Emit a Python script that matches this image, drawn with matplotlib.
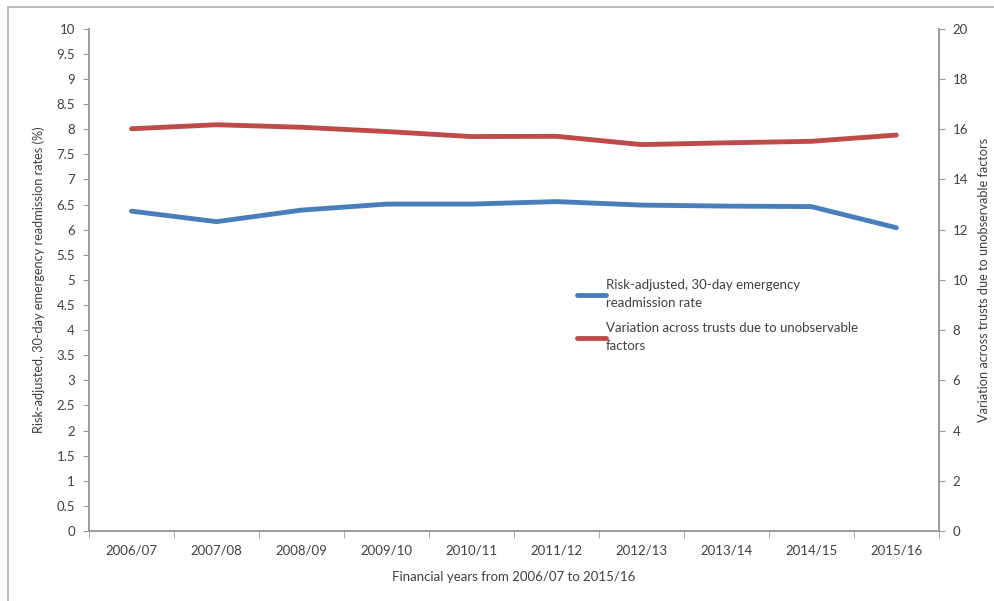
import matplotlib.pyplot as plt
from matplotlib.patches import Rectangle

# Data
years = ['2006/07', '2007/08', '2008/09', '2009/10', '2010/11',
         '2011/12', '2012/13', '2013/14', '2014/15', '2015/16']
readmission_rate = [6.37, 6.16, 6.39, 6.51, 6.51, 6.56, 6.49, 6.47, 6.46, 6.04]
unobserved_variation = [16.02, 16.18, 16.08, 15.91, 15.71, 15.72, 15.39, 15.46, 15.52, 15.77]

plt.rcParams['font.family'] = ['Lato', 'DejaVu Sans']
grey = '#9a9a9a'
text_col = '#404040'

fig = plt.figure(figsize=(9.94, 6.01), dpi=100)
ax = fig.add_axes([0.0895, 0.1165, 0.855, 0.8355])
ax2 = ax.twinx()

x = list(range(len(years)))
line1, = ax.plot(x, readmission_rate, color='#4a7ebb', linewidth=3.5,
                 solid_capstyle='round', label='Risk-adjusted, 30-day emergency\nreadmission rate')
line2, = ax2.plot(x, unobserved_variation, color='#be4b48', linewidth=3.5,
                  solid_capstyle='round', label='Variation across trusts due to unobservable\nfactors')

# Left axis
yt = [i * 0.5 for i in range(21)]
ax.set_ylim(0, 10)
ax.set_yticks(yt)
ax.set_yticklabels(['%g' % v for v in yt])
ax.set_xlim(-0.5, len(years) - 0.5)
ax.set_xticks(x)
ax.set_xticklabels(years)
ax.set_xticks([i - 0.5 for i in range(len(years) + 1)], minor=True)
ax.tick_params(axis='x', which='major', length=0, pad=10)
ax.tick_params(axis='x', which='minor', length=5, color=grey, direction='out')
ax.tick_params(axis='y', length=4, color=grey, direction='out', pad=6)
ax.tick_params(labelsize=9.5, labelcolor=text_col)

# Right axis
ax2.set_ylim(0, 20)
ax2.set_yticks(range(0, 21, 2))
ax2.tick_params(axis='y', length=4, color=grey, direction='out', pad=6,
                labelsize=9.5, labelcolor=text_col)

for a in (ax, ax2):
    a.spines['top'].set_visible(False)
    for s in ('left', 'right', 'bottom'):
        a.spines[s].set_color(grey)
        a.spines[s].set_linewidth(1.2)

ax.set_ylabel('Risk-adjusted, 30-day emergency readmission rates (%)',
              fontsize=9.2, color=text_col, labelpad=8)
ax2.set_ylabel('Variation across trusts due to unobservable factors',
               fontsize=9.2, color=text_col, labelpad=7)
ax.set_xlabel('Financial years from 2006/07 to 2015/16', fontsize=9.5,
              color=text_col, labelpad=10)

leg = ax.legend(handles=[line1, line2], loc='upper left',
                bbox_to_anchor=(0.56, 0.525), frameon=False, fontsize=9.5,
                handlelength=2.2, handletextpad=0.0, labelspacing=1.0,
                labelcolor=text_col)
for t in leg.get_texts():
    t.set_linespacing(1.6)

# Outer frame (top and left edges visible, the rest runs off the picture)
fig.patches.append(Rectangle((8 / 994, -0.05), 1.1, 1.0388,
                             transform=fig.transFigure, fill=False,
                             edgecolor='#b0b0b0', linewidth=1.2))

fig.savefig('out.png', dpi=100)
